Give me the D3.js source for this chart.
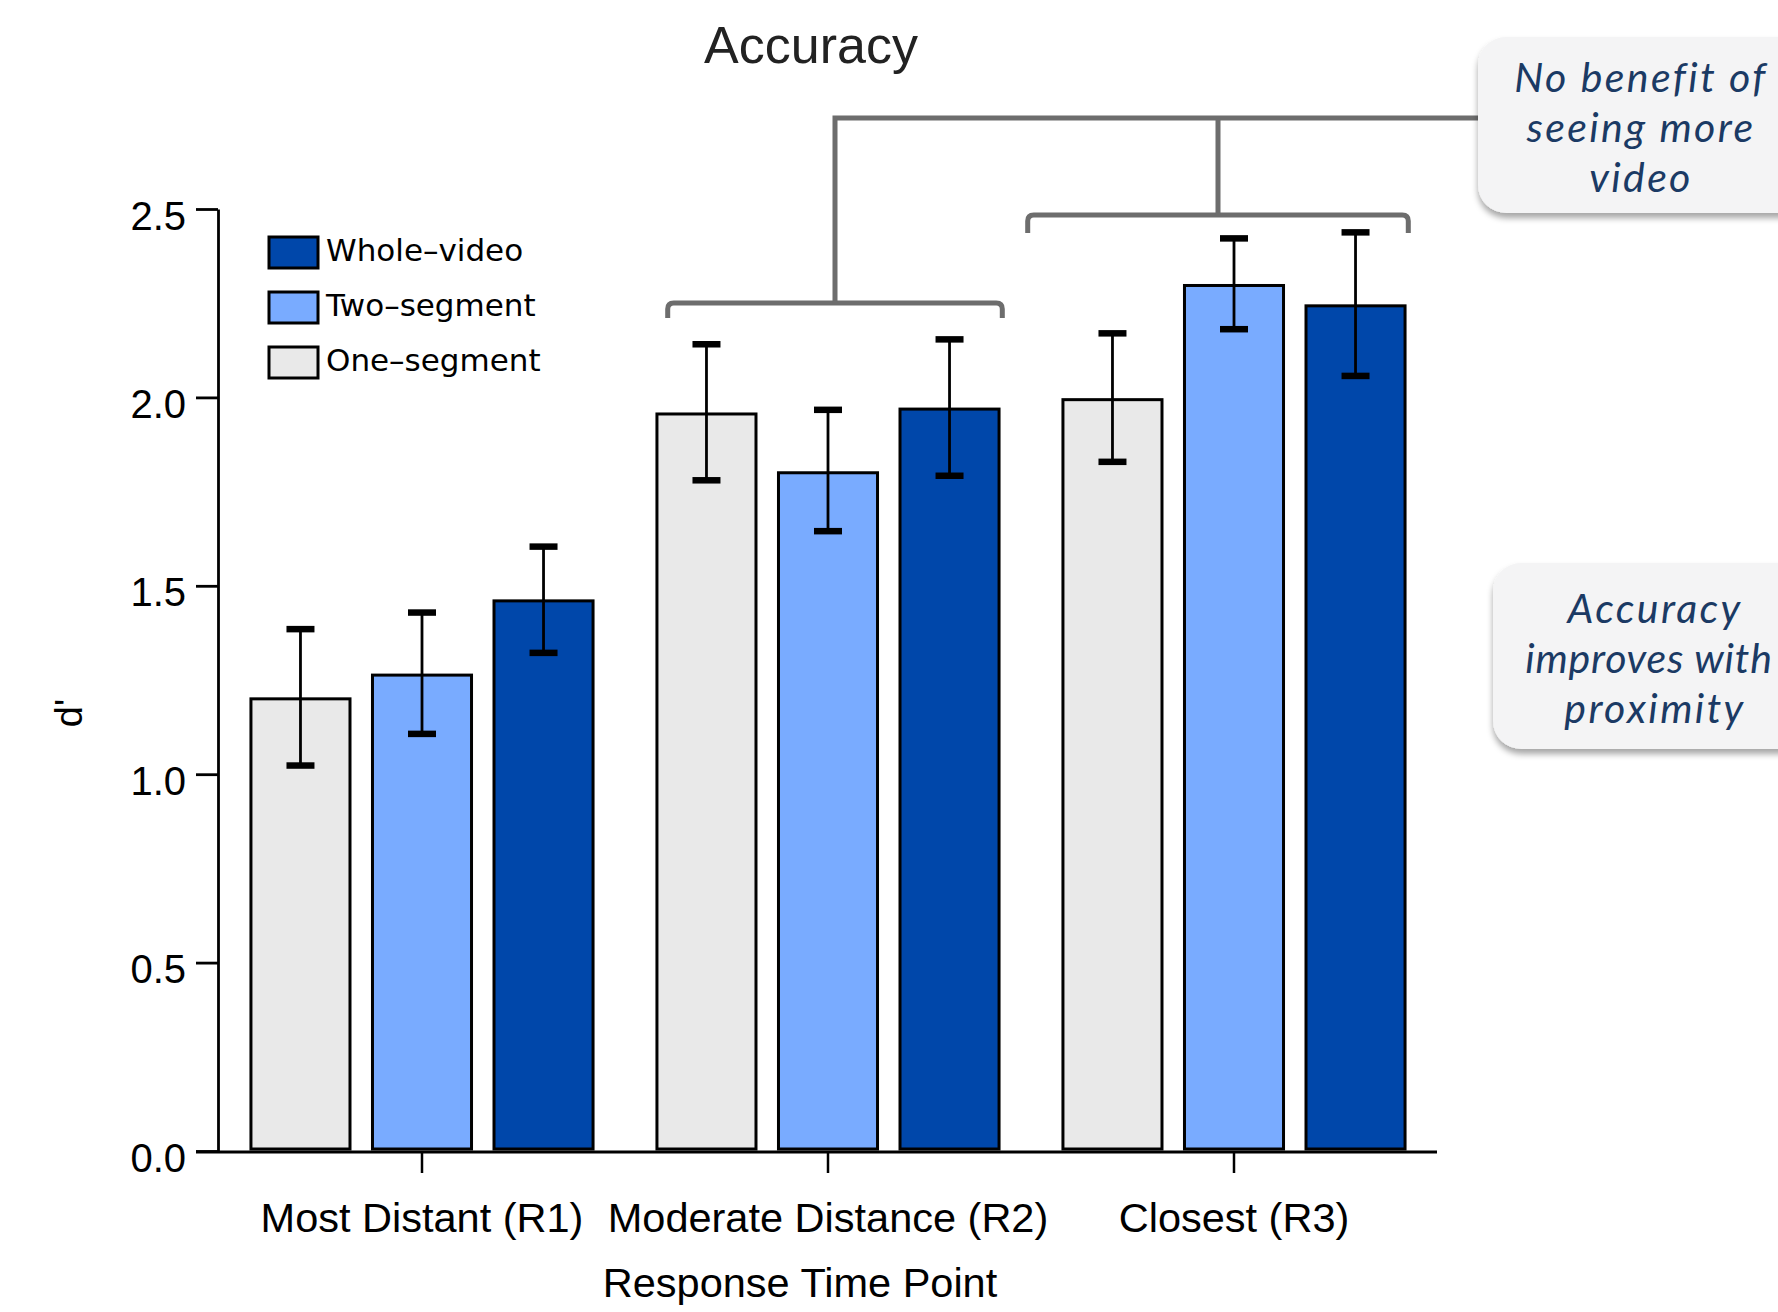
<!DOCTYPE html>
<html><head><meta charset="utf-8">
<script src="https://cdn.jsdelivr.net/npm/d3@7"></script>
<style>body{margin:0;background:#fff}</style>
</head><body><svg id="c" width="1778" height="1312"></svg>
<script>
// ---------- data ----------
const categories = ["Most Distant (R1)", "Moderate Distance (R2)", "Closest (R3)"];
const seriesNames = ["One\u2013segment", "Two\u2013segment", "Whole\u2013video"];
const oneSegment   = [1.200, 1.956, 1.994];
const twoSegment   = [1.263, 1.800, 2.297];
const wholeVideo   = [1.460, 1.969, 2.243];
const oneSegmentHi = [1.385, 2.141, 2.170];
const oneSegmentLo = [1.023, 1.780, 1.829];
const twoSegmentHi = [1.429, 1.967, 2.422];
const twoSegmentLo = [1.107, 1.645, 2.181];
const wholeVideoHi = [1.604, 2.154, 2.438];
const wholeVideoLo = [1.322, 1.792, 2.057];
const yTicks = [0, 0.5, 1.0, 1.5, 2.0, 2.5];
const legendOrder = ["Whole\u2013video", "Two\u2013segment", "One\u2013segment"];
const noteTop = ["No benefit of", "seeing more", "video"];
const noteMid = ["Accuracy", "improves with", "proximity"];

const colors = {"One\u2013segment": "#e9e9e9", "Two\u2013segment": "#79abff", "Whole\u2013video": "#0047aa"};
const seriesVals = [oneSegment, twoSegment, wholeVideo];
const seriesHi = [oneSegmentHi, twoSegmentHi, wholeVideoHi];
const seriesLo = [oneSegmentLo, twoSegmentLo, wholeVideoLo];

const rows = [];
categories.forEach((c, i) => seriesNames.forEach((s, j) => rows.push({
  cat: c, series: s, v: seriesVals[j][i], hi: seriesHi[j][i], lo: seriesLo[j][i]
})));

// ---------- scales ----------
const svg = d3.select("#c");
const y = d3.scaleLinear().domain([0, 2.5]).range([1151, 209]);
const x0 = d3.scaleBand().domain(categories).range([219, 1437]).paddingInner(0.102).paddingOuter(0.051);
const x1 = d3.scaleBand().domain(seriesNames).range([0, x0.bandwidth()]).paddingInner(0.185).paddingOuter(0.0925);

// ---------- defs ----------
const defs = svg.append("defs");
const f = defs.append("filter").attr("id", "sh").attr("x", "-10%").attr("y", "-10%").attr("width", "130%").attr("height", "140%");
f.append("feDropShadow").attr("dx", 0).attr("dy", 5).attr("stdDeviation", 3).attr("flood-color", "#000").attr("flood-opacity", 0.35);

// ---------- title ----------
svg.append("text").attr("x", 811).attr("y", 63).attr("text-anchor", "middle")
  .attr("font-family", "Liberation Sans, Arial, sans-serif").attr("font-size", 52).attr("fill", "#222")
  .text("Accuracy");

// ---------- bars ----------
svg.append("g").selectAll("rect").data(rows).join("rect")
  .attr("x", d => x0(d.cat) + x1(d.series))
  .attr("y", d => y(d.v))
  .attr("width", x1.bandwidth())
  .attr("height", d => y(0) - y(d.v) - 2)
  .attr("fill", d => colors[d.series])
  .attr("stroke", "#000").attr("stroke-width", 3);

// ---------- error bars ----------
const eg = svg.append("g");
rows.forEach(d => {
  const cx = x0(d.cat) + x1(d.series) + x1.bandwidth() / 2;
  eg.append("line").attr("x1", cx).attr("x2", cx).attr("y1", y(d.hi)).attr("y2", y(d.lo))
    .attr("stroke", "#000").attr("stroke-width", 2.8);
  [d.hi, d.lo].forEach(v => eg.append("line").attr("x1", cx - 14).attr("x2", cx + 14)
    .attr("y1", y(v)).attr("y2", y(v)).attr("stroke", "#000").attr("stroke-width", 6.5));
});

// ---------- axes ----------
const yAxis = svg.append("g").attr("transform", "translate(218,0)")
  .call(d3.axisLeft(y).tickValues(yTicks).tickFormat(d3.format(".1f")).tickSize(22).tickSizeOuter(0).tickPadding(10));
yAxis.select(".domain").attr("stroke", "#000").attr("stroke-width", 2.8);
yAxis.selectAll(".tick line").attr("stroke", "#000").attr("stroke-width", 2.8);
yAxis.selectAll(".tick text").attr("font-family", "Liberation Sans, Arial, sans-serif").attr("font-size", 40)
  .attr("fill", "#000").attr("dy", "0.5em");

const xAxis = svg.append("g").attr("transform", "translate(0,1152)")
  .call(d3.axisBottom(x0).tickSize(21).tickSizeOuter(0));
xAxis.select(".domain").remove();
xAxis.selectAll(".tick line").attr("stroke", "#000").attr("stroke-width", 2.5);
xAxis.selectAll(".tick text").attr("font-family", "Liberation Sans, Arial, sans-serif").attr("font-size", 41.5)
  .attr("fill", "#000").attr("y", 80).attr("dy", 0);
svg.append("line").attr("x1", 196).attr("x2", x0.range()[1]).attr("y1", y(0) + 1).attr("y2", y(0) + 1)
  .attr("stroke", "#000").attr("stroke-width", 2.8);

svg.append("text").attr("x", 800).attr("y", 1297).attr("text-anchor", "middle")
  .attr("font-family", "Liberation Sans, Arial, sans-serif").attr("font-size", 41.5).attr("fill", "#000")
  .text("Response Time Point");
svg.append("text").attr("transform", "translate(82,713) rotate(-90)").attr("text-anchor", "middle")
  .attr("font-family", "Liberation Sans, Arial, sans-serif").attr("font-size", 38).attr("fill", "#000")
  .text("d'");

// ---------- legend ----------
const lg = svg.append("g");
legendOrder.forEach((s, i) => {
  lg.append("rect").attr("x", 269).attr("y", 237 + i * 55).attr("width", 49).attr("height", 31)
    .attr("fill", colors[s]).attr("stroke", "#000").attr("stroke-width", 3);
  lg.append("text").attr("x", 326).attr("y", 261 + i * 55)
    .attr("font-family", "DejaVu Sans, sans-serif").attr("font-size", 31).attr("fill", "#000").text(s);
});

// ---------- annotation brackets ----------
const br = svg.append("g").attr("fill", "none").attr("stroke", "#6d6d6d").attr("stroke-width", 5);
function bracket(xl, xr, yy, yb) {
  const r = 6;
  return `M${xl},${yb} L${xl},${yy + r} Q${xl},${yy} ${xl + r},${yy} L${xr - r},${yy} Q${xr},${yy} ${xr},${yy + r} L${xr},${yb}`;
}
const r2Left = x0(categories[1]) + 22, r2Right = x0(categories[1]) + x0.bandwidth() - 8;
const r3Left = x0(categories[2]) - 24, r3Right = x0(categories[2]) + x0.bandwidth() - 8;
br.append("path").attr("d", bracket(r2Left, r2Right, 303, 318));
br.append("path").attr("d", bracket(r3Left, r3Right, 215, 233));
br.append("path").attr("d", `M835,303 L835,118 L1480,118 M1218,118 L1218,215`);

// ---------- annotation boxes ----------
function note(bx, by, bh, lines, cx, off) {
  svg.append("rect").attr("x", bx).attr("y", by).attr("width", 360).attr("height", bh).attr("rx", 28)
    .attr("fill", "#f4f4f5").attr("filter", "url(#sh)");
  lines.forEach((t, i) => {
    const wide = t.length > 12;
    svg.append("text").attr("x", wide && bx > 1480 ? cx - 6 : cx).attr("y", by + off + i * 50)
      .attr("text-anchor", "middle").attr("font-family", "Lato, 'Open Sans', sans-serif")
      .attr("font-style", "italic").attr("font-size", 41).attr("letter-spacing", wide && bx > 1480 ? 0.8 : 2.4)
      .attr("fill", "#1b3a64").text(t);
  });
}
note(1478, 37, 176, noteTop, 1641, 55);
note(1493, 563, 186, noteMid, 1655, 60);
</script></body></html>
